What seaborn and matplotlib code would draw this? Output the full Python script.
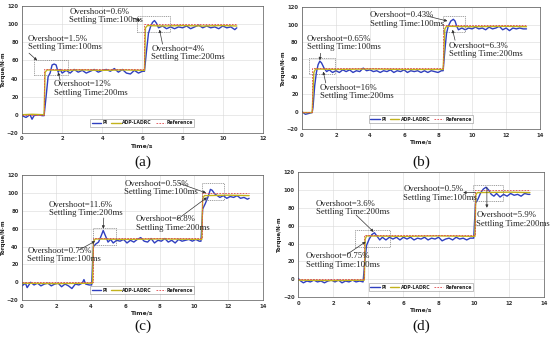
import matplotlib
matplotlib.use("Agg")
import matplotlib.pyplot as plt
import matplotlib.patches as patches
import seaborn as sns

sns.set_theme(style="whitegrid")
plt.rcParams["font.family"] = ["DejaVu Sans"]

# ---------------- panel (a) ----------------
PI_A_T = [0.0, 0.2, 0.4, 0.5, 0.6, 0.8, 1.0, 1.1, 1.2, 1.3, 1.4, 1.5, 1.6, 1.7, 1.8, 1.9,
          2.0, 2.2, 2.4, 2.6, 2.8, 3.0, 3.2, 3.4, 3.6, 3.8, 4.0, 4.2, 4.4, 4.6, 4.8, 5.0,
          5.2, 5.4, 5.6, 5.8, 6.0, 6.1, 6.2, 6.3, 6.4, 6.5, 6.6, 6.7, 6.8, 7.0, 7.2, 7.4,
          7.6, 7.8, 8.0, 8.2, 8.4, 8.6, 8.8, 9.0, 9.2, 9.4, 9.6, 9.8, 10.0, 10.2, 10.4,
          10.6, 10.7]
PI_A_V = [-1, -3, 0, -5, -1, 0, -1, -1, 20, 42, 46, 55, 56, 55, 47, 50,
          46, 49, 46, 50, 47, 49, 46, 48, 50, 47, 49, 50, 48, 51, 47, 50,
          46, 45, 49, 46, 48, 48, 70, 90, 97, 102, 104, 101, 96, 98, 95, 97,
          95, 97, 96, 98, 95, 97, 99, 96, 98, 96, 97, 95, 98, 96, 97,
          94, 96]
ADP_A_T = [0.0, 0.5, 1.1, 1.15, 1.25, 2.0, 3.0, 4.0, 5.0, 6.1, 6.15, 6.25, 7.0, 8.0, 9.0, 10.0, 10.7]
ADP_A_V = [0, 0.5, 0, 47, 49.5, 49, 49.5, 49, 49.5, 49, 96, 98.5, 98, 98.5, 98, 98.5, 98]
REF_A_T = [0.0, 1.1, 1.1, 6.1, 6.1, 10.7]
REF_A_V = [0, 0, 50, 50, 100, 100]

# ---------------- panel (b) ----------------
PI_B_T = [0.0, 0.2, 0.4, 0.6, 0.65, 0.75, 0.85, 0.95, 1.05, 1.15, 1.3, 1.45, 1.6, 1.8,
          2.0, 2.2, 2.4, 2.6, 2.8, 3.0, 3.2, 3.4, 3.6, 3.8, 4.0, 4.2, 4.4, 4.6, 4.8, 5.0,
          5.2, 5.4, 5.6, 5.8, 6.0, 6.2, 6.4, 6.6, 6.8, 7.0, 7.2, 7.4, 7.6, 7.8, 8.0, 8.2,
          8.3, 8.4, 8.5, 8.6, 8.75, 8.9, 9.0, 9.1, 9.2, 9.4, 9.6, 9.8, 10.0, 10.2, 10.4,
          10.6, 10.8, 11.0, 11.2, 11.4, 11.6, 11.8, 12.0, 12.2, 12.4, 12.6, 12.8, 13.0, 13.2]
PI_B_V = [0, -3, -2, -1, 5, 30, 45, 54, 58, 56, 50, 46, 48, 45,
          47, 45, 48, 46, 48, 45, 47, 46, 50, 47, 48, 46, 47, 45, 47, 46,
          48, 45, 47, 46, 48, 45, 47, 46, 47, 45, 47, 45, 47, 46, 45, 47,
          47, 70, 90, 98, 104, 106, 104, 98, 94, 96, 94, 96, 95, 97, 95,
          96, 94, 97, 95, 96, 98, 94, 96, 93, 96, 95, 96, 95, 95]
ADP_B_T = [0.0, 0.6, 0.7, 0.8, 2.0, 4.0, 6.0, 8.3, 8.4, 8.5, 10.0, 12.0, 13.2]
ADP_B_V = [-1, -1, 45, 49, 48.5, 49, 48.5, 48.5, 95, 98, 97.5, 98, 97.5]
REF_B_T = [0.0, 0.6, 0.6, 8.3, 8.3, 13.2]
REF_B_V = [0, 0, 50, 50, 100, 100]

# ---------------- panel (c) ----------------
PI_C_T = [0.0, 0.2, 0.3, 0.5, 0.7, 0.9, 1.1, 1.3, 1.5, 1.7, 1.9, 2.1, 2.3, 2.5, 2.7,
          2.9, 3.1, 3.3, 3.5, 3.6, 3.7, 3.9, 4.05, 4.15, 4.3, 4.45, 4.6, 4.72, 4.85,
          5.0, 5.15, 5.3, 5.5, 5.7, 5.9, 6.1, 6.3, 6.5, 6.7, 6.9, 7.1, 7.3, 7.5, 7.7,
          7.9, 8.1, 8.3, 8.5, 8.7, 8.9, 9.1, 9.3, 9.5, 9.7, 9.9, 10.1, 10.3, 10.4,
          10.5, 10.65, 10.8, 10.95, 11.05, 11.2, 11.35, 11.5, 11.7, 11.9, 12.1, 12.3,
          12.5, 12.7, 12.9, 13.1, 13.2]
PI_C_V = [-4, -1, -6, 0, -3, -1, -4, -2, -1, -4, -2, -1, -5, -2, -4,
          -7, -2, -3, -1, 3, -2, -3, -3, 40, 43, 45, 52, 58, 52,
          45, 48, 44, 47, 46, 48, 44, 47, 45, 48, 50, 46, 45, 49, 44,
          47, 46, 49, 45, 47, 44, 48, 46, 47, 48, 46, 48, 46, 46,
          82, 88, 95, 104, 103, 99, 97, 95, 97, 94, 96, 95,
          97, 94, 95, 93, 94]
ADP_C_T = [0.0, 2.0, 4.1, 4.15, 4.25, 6.0, 8.0, 10.45, 10.5, 10.6, 12.0, 13.2]
ADP_C_V = [-1, -1.5, -1, 45, 48.5, 48, 48.5, 48, 94, 97, 97.5, 97]
REF_C_T = [0.0, 4.1, 4.1, 10.45, 10.45, 13.2]
REF_C_V = [0, 0, 50, 50, 100, 100]

# ---------------- panel (d) ----------------
PI_D_T = [0.0, 0.15, 0.3, 0.5, 0.7, 0.9, 1.1, 1.3, 1.5, 1.7, 1.9, 2.1, 2.3, 2.5, 2.7,
          2.9, 3.1, 3.3, 3.5, 3.7, 3.8, 3.9, 4.05, 4.2, 4.35, 4.5, 4.65, 4.8, 5.0, 5.2,
          5.4, 5.6, 5.8, 6.0, 6.2, 6.4, 6.6, 6.8, 7.0, 7.2, 7.4, 7.6, 7.8, 8.0, 8.2,
          8.4, 8.6, 8.8, 9.0, 9.2, 9.4, 9.6, 9.8, 10.0, 10.1, 10.25, 10.4, 10.55, 10.7,
          10.85, 11.0, 11.15, 11.3, 11.5, 11.7, 11.9, 12.1, 12.3, 12.5, 12.7, 12.9,
          13.1, 13.2]
PI_D_V = [1, -2, -4, -2, -3, -1, -3, -2, -4, -2, -1, -3, -1, -4, -2,
          -3, -1, -3, -2, -3, 20, 38, 45, 50, 52, 48, 44, 47, 44, 47,
          45, 47, 44, 47, 45, 47, 44, 46, 45, 47, 44, 46, 45, 47, 43,
          45, 46, 44, 47, 45, 46, 44, 46, 46, 85, 90, 97, 101, 103,
          100, 95, 93, 96, 92, 95, 93, 96, 94, 95, 93, 96,
          95, 95]
ADP_D_T = [0.0, 2.0, 3.77, 3.82, 3.9, 6.0, 8.0, 10.07, 10.12, 10.2, 12.0, 13.2]
ADP_D_V = [-1, -1.5, -1, 45, 48.5, 48, 48.5, 48, 94, 97, 97.5, 97]
REF_D_T = [0.0, 3.77, 3.77, 10.07, 10.07, 13.2]
REF_D_V = [0, 0, 50, 50, 100, 100]

# annotations: (text, x, y) in data units, boxes (x0, y0, x1, y1), arrows (x_from, y_from, x_to, y_to)
NOTES_A = [("Overshoot=0.6%\nSettling Time:100ms", 2.35, 118),
           ("Overshoot=1.5%\nSettling Time:100ms", 0.3, 88),
           ("Overshoot=12%\nSettling Time:200ms", 1.6, 38),
           ("Overshoot=4%\nSettling Time:200ms", 6.45, 77)]
BOXES_A = [(0.6, 44, 2.27, 61), (5.73, 91, 7.35, 109)]
ARROWS_A = [(0.35, 68, 0.75, 60), (1.9, 38, 1.8, 47), (5.5, 107, 5.9, 104), (7.0, 78, 6.85, 94)]

NOTES_B = [("Overshoot=0.43%\nSettling Time:100ms", 4.0, 115),
           ("Overshoot=0.65%\nSettling Time:100ms", 0.3, 88),
           ("Overshoot=16%\nSettling Time:200ms", 1.05, 32),
           ("Overshoot=6.3%\nSettling Time:200ms", 8.65, 80)]
BOXES_B = [(0.4, 43, 1.92, 62), (8.27, 91, 9.56, 110)]
ARROWS_B = [(1.1, 67, 1.05, 59), (1.4, 33, 1.25, 46), (7.3, 110, 8.55, 104), (9.0, 82, 8.85, 94)]

NOTES_C = [("Overshoot=0.55%\nSettling Time:100ms", 5.95, 115),
           ("Overshoot=11.6%\nSettling Time:200ms", 1.55, 91),
           ("Overshoot=0.75%\nSettling Time:100ms", 0.3, 40),
           ("Overshoot=6.8%\nSettling Time:200ms", 6.6, 75)]
BOXES_C = [(4.1, 42, 5.45, 61), (10.45, 92, 11.76, 111)]
ARROWS_C = [(4.75, 72, 4.72, 60), (3.3, 36, 4.25, 46), (9.1, 111, 10.7, 100), (9.0, 70, 10.75, 95)]

NOTES_D = [("Overshoot=0.5%\nSettling Time:100ms", 6.0, 105),
           ("Overshoot=3.6%\nSettling Time:200ms", 1.0, 89),
           ("Overshoot=0.75%\nSettling Time:100ms", 0.45, 30),
           ("Overshoot=5.9%\nSettling Time:200ms", 10.15, 76)]
BOXES_D = [(3.24, 36, 5.24, 55), (9.98, 88, 11.68, 106)]
ARROWS_D = [(3.3, 72, 4.3, 53), (2.8, 28, 3.85, 42), (10.1, 97, 9.4, 97), (10.75, 103, 10.75, 80)]

PANELS = [
    ("(a)", [0.040, 0.607, 0.438, 0.375], 0.52, 12, PI_A_T, PI_A_V, ADP_A_T, ADP_A_V,
     REF_A_T, REF_A_V, NOTES_A, BOXES_A, ARROWS_A),
    ("(b)", [0.549, 0.618, 0.433, 0.361], 0.52, 14, PI_B_T, PI_B_V, ADP_B_T, ADP_B_V,
     REF_B_T, REF_B_V, NOTES_B, BOXES_B, ARROWS_B),
    ("(c)", [0.040, 0.112, 0.438, 0.370], 0.036, 14, PI_C_T, PI_C_V, ADP_C_T, ADP_C_V,
     REF_C_T, REF_C_V, NOTES_C, BOXES_C, ARROWS_C),
    ("(d)", [0.542, 0.121, 0.447, 0.370], 0.034, 14, PI_D_T, PI_D_V, ADP_D_T, ADP_D_V,
     REF_D_T, REF_D_V, NOTES_D, BOXES_D, ARROWS_D),
]

PI_COLOR = "#2f3fbf"
ADP_COLOR = "#c2b21c"
REF_COLOR = "#e0474c"
SERIF = "Liberation Serif"

fig = plt.figure(figsize=(5.5, 3.38), dpi=100)
fig.patch.set_facecolor("white")

for (tag, pos, tag_y, xmax, pi_t, pi_v, adp_t, adp_v, ref_t, ref_v,
     notes, boxes, arrows) in PANELS:
    ax = fig.add_axes(pos)
    sns.lineplot(x=pi_t, y=pi_v, ax=ax, color=PI_COLOR, linewidth=1.0,
                 estimator=None, sort=False, label="PI")
    sns.lineplot(x=adp_t, y=adp_v, ax=ax, color=ADP_COLOR, linewidth=1.0,
                 estimator=None, sort=False, label="ADP-LADRC")
    sns.lineplot(x=ref_t, y=ref_v, ax=ax, color=REF_COLOR, linewidth=0.6,
                 linestyle=(0, (2, 1.5)), estimator=None, sort=False, label="Reference")

    ax.set_xlim(0, xmax)
    ax.set_ylim(-20, 120)
    ax.set_xticks(range(0, xmax + 1, 2))
    ax.set_yticks(range(-20, 121, 20))
    ax.set_facecolor("white")
    ax.grid(True, color="#d8d8d8", linewidth=0.4)
    for s in ax.spines.values():
        s.set_color("#555555")
        s.set_linewidth(0.5)
    ax.tick_params(axis="both", labelsize=3.8, length=1.5, pad=1, colors="#333333", width=0.4)
    for lab in ax.get_xticklabels() + ax.get_yticklabels():
        lab.set_fontweight("bold")
    ax.set_xlabel("Time/s", fontsize=4.3, fontweight="bold", labelpad=1.5, color="#222222")
    ax.set_ylabel("Torque/N·m", fontsize=4.0, fontweight="bold", labelpad=0.5, color="#222222")

    leg = ax.legend(loc="lower center", bbox_to_anchor=(0.5, 0.03), ncol=3, fontsize=3.3,
                    frameon=True, handlelength=2.0, columnspacing=0.8, handletextpad=0.4,
                    borderpad=0.3, fancybox=False, edgecolor="#777777")
    leg.get_frame().set_linewidth(0.4)
    for t in leg.get_texts():
        t.set_fontweight("bold")

    for (x0, y0, x1, y1) in boxes:
        ax.add_patch(patches.Rectangle((x0, y0), x1 - x0, y1 - y0, fill=False,
                                       edgecolor="#777777", linewidth=0.5,
                                       linestyle=(0, (1.5, 1.2)), zorder=4))
    for (xf, yf, xt, yt) in arrows:
        ax.annotate("", xy=(xt, yt), xytext=(xf, yf),
                    arrowprops=dict(arrowstyle="-|>", color="#333333", lw=0.5,
                                    mutation_scale=4, shrinkA=0, shrinkB=0), zorder=5)
    for (txt, tx, ty) in notes:
        ax.text(tx, ty, txt, fontsize=6.3, family=SERIF, color="#222222",
                va="top", ha="left", linespacing=1.05, zorder=6)

    mid = pos[0] + pos[2] / 2
    fig.text(mid, tag_y, tag, fontsize=11, family=SERIF, ha="center", va="center",
             color="#111111")

fig.savefig("out.png", dpi=100, facecolor="white")
